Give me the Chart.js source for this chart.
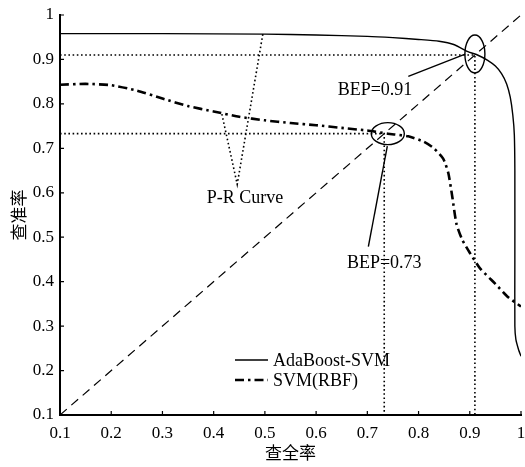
<!DOCTYPE html>
<html>
<head>
<meta charset="utf-8">
<script src="https://cdn.jsdelivr.net/npm/chart.js@4"></script>
<style>
  html, body { margin: 0; padding: 0; background: #fff; }
  #wrap { width: 525px; height: 467px; }
</style>
</head>
<body>
<div id="wrap"><canvas id="prChart"></canvas></div>
<script>
// ---------- Data ----------
const adaRecall    = [0.1, 0.3, 0.5, 0.6, 0.7, 0.75, 0.8, 0.84, 0.87, 0.895, 0.915, 0.935, 0.95, 0.962, 0.972, 0.979, 0.984, 0.987, 0.988, 0.988, 0.988, 0.99, 0.995, 1.0];
const adaPrecision = [0.958, 0.958, 0.957, 0.955, 0.952, 0.949, 0.945, 0.941, 0.933, 0.918, 0.91, 0.898, 0.885, 0.868, 0.845, 0.815, 0.775, 0.73, 0.65, 0.45, 0.3, 0.27, 0.248, 0.232];

const svmRecall    = [0.1, 0.15, 0.2, 0.25, 0.3, 0.35, 0.4, 0.45, 0.5, 0.55, 0.6, 0.65, 0.7, 0.74, 0.78, 0.81, 0.83, 0.848, 0.858, 0.866, 0.874, 0.885, 0.9, 0.92, 0.95, 0.975, 1.0];
const svmPrecision = [0.843, 0.845, 0.842, 0.83, 0.812, 0.795, 0.783, 0.771, 0.763, 0.757, 0.752, 0.746, 0.74, 0.733, 0.727, 0.715, 0.70, 0.677, 0.645, 0.59, 0.53, 0.495, 0.465, 0.43, 0.395, 0.365, 0.344];

const xTicks = [0.1, 0.2, 0.3, 0.4, 0.5, 0.6, 0.7, 0.8, 0.9, 1];
const yTicks = [0.1, 0.2, 0.3, 0.4, 0.5, 0.6, 0.7, 0.8, 0.9, 1];

const bepAda = 0.91;
const bepSvm = 0.733;

// P-R Curve pointer (V shape)
const prPointerX = [0.416, 0.446, 0.496];
const prPointerY = [0.777, 0.619, 0.957];

// BEP leader lines
const bepAdaLeaderX = [0.780, 0.891];
const bepAdaLeaderY = [0.862, 0.912];
const bepSvmLeaderX = [0.739, 0.702];
const bepSvmLeaderY = [0.705, 0.479];

// text notes: [text, x, y]
const notes = [
  ["BEP=0.91", 0.715, 0.831],
  ["BEP=0.73", 0.733, 0.441],
  ["P-R Curve", 0.461, 0.587]
];

const pts = (xs, ys) => xs.map((x, i) => ({ x: x, y: ys[i] }));

const SERIF = "'Liberation Serif', 'DejaVu Serif', serif";
const CJK = "'Noto Sans CJK SC', sans-serif";

// ---------- Plugin: inward ticks, ellipses, notes, legend ----------
const extras = {
  id: "extras",
  afterDatasetsDraw(chart) {
    const ctx = chart.ctx;
    const xs = chart.scales.x, ys = chart.scales.y;
    const area = chart.chartArea;
    ctx.save();

    // inward tick marks
    ctx.strokeStyle = "#000";
    ctx.lineWidth = 1.2;
    ctx.beginPath();
    xTicks.forEach(v => {
      const px = xs.getPixelForValue(v);
      ctx.moveTo(px, area.bottom);
      ctx.lineTo(px, area.bottom - 4);
    });
    yTicks.forEach(v => {
      const py = ys.getPixelForValue(v);
      ctx.moveTo(area.left, py);
      ctx.lineTo(area.left + 4, py);
    });
    ctx.stroke();

    // ellipses round the break-even points
    ctx.lineWidth = 1.4;
    ctx.beginPath();
    ctx.ellipse(xs.getPixelForValue(bepAda), ys.getPixelForValue(bepAda) - 1, 10, 19, 0, 0, Math.PI * 2);
    ctx.stroke();
    ctx.beginPath();
    ctx.ellipse(xs.getPixelForValue(bepSvm + 0.007), ys.getPixelForValue(bepSvm), 16.5, 11, 0, 0, Math.PI * 2);
    ctx.stroke();

    // notes
    ctx.fillStyle = "#000";
    ctx.font = "18px " + SERIF;
    ctx.textAlign = "center";
    ctx.textBaseline = "middle";
    notes.forEach(n => {
      ctx.fillText(n[0], xs.getPixelForValue(n[1]), ys.getPixelForValue(n[2]));
    });

    // legend
    const lx = area.left + 175;
    const items = chart.data.datasets.filter(d => d.inLegend);
    items.forEach((d, i) => {
      const y = area.bottom - 55 + i * 20;
      ctx.beginPath();
      ctx.setLineDash(d.borderDash || []);
      ctx.lineWidth = d.borderWidth;
      ctx.moveTo(lx, y);
      ctx.lineTo(lx + 33, y);
      ctx.stroke();
      ctx.setLineDash([]);
      ctx.textAlign = "left";
      ctx.fillText(d.label, lx + 38, y + 1);
    });

    ctx.restore();
  }
};

const dotted = { borderColor: "#000", borderWidth: 1.6, borderDash: [1.6, 2.6], pointRadius: 0, showLine: true, fill: false };

new Chart(document.getElementById("prChart"), {
  type: "scatter",
  data: {
    datasets: [
      { ...dotted, data: pts([0.1, bepAda, bepAda], [bepAda, bepAda, 0.1]) },
      { ...dotted, data: pts([0.1, bepSvm, bepSvm], [bepSvm, bepSvm, 0.1]) },
      { ...dotted, data: pts(prPointerX, prPointerY) },
      {
        data: pts([0.1, 1], [0.1, 1]),
        borderColor: "#000", borderWidth: 1.2, borderDash: [9, 6],
        pointRadius: 0, showLine: true
      },
      { data: pts(bepAdaLeaderX, bepAdaLeaderY), borderColor: "#000", borderWidth: 1.4, pointRadius: 0, showLine: true },
      { data: pts(bepSvmLeaderX, bepSvmLeaderY), borderColor: "#000", borderWidth: 1.4, pointRadius: 0, showLine: true },
      {
        label: "AdaBoost-SVM", inLegend: true,
        data: pts(adaRecall, adaPrecision),
        borderColor: "#000", borderWidth: 1.4,
        pointRadius: 0, showLine: true, tension: 0.2
      },
      {
        label: "SVM(RBF)", inLegend: true,
        data: pts(svmRecall, svmPrecision),
        borderColor: "#000", borderWidth: 2.6, borderDash: [9, 4, 2.5, 4],
        pointRadius: 0, showLine: true, tension: 0.2
      }
    ]
  },
  options: {
    responsive: true,
    maintainAspectRatio: false,
    animation: false,
    layout: { padding: { top: 15, right: 4, left: 0, bottom: 0 } },
    plugins: { legend: { display: false }, tooltip: { enabled: false } },
    scales: {
      x: {
        type: "linear", min: 0.1, max: 1,
        afterBuildTicks: s => { s.ticks = xTicks.map(v => ({ value: v })); },
        afterFit: s => { s.height = 52; s.paddingLeft = 0; s.paddingRight = 0; },
        ticks: {
          color: "#000", padding: 8, maxRotation: 0,
          font: { family: SERIF, size: 17 },
          callback: v => v === 1 ? "1" : v.toFixed(1)
        },
        grid: { drawOnChartArea: false, drawTicks: false },
        border: { display: true, color: "#000", width: 2 },
        title: {
          display: true, text: "查全率", color: "#000",
          font: { family: CJK, size: 17 },
          padding: { top: 0, bottom: 4 }
        }
      },
      y: {
        type: "linear", min: 0.1, max: 1,
        afterBuildTicks: s => { s.ticks = yTicks.map(v => ({ value: v })); },
        afterFit: s => { s.width = 60; s.paddingTop = 0; s.paddingBottom = 0; },
        ticks: {
          color: "#000", padding: 6,
          font: { family: SERIF, size: 17 },
          callback: v => v === 1 ? "1" : v.toFixed(1)
        },
        grid: { drawOnChartArea: false, drawTicks: false },
        border: { display: true, color: "#000", width: 2 },
        title: {
          display: true, text: "查准率", color: "#000",
          font: { family: CJK, size: 17 },
          padding: { top: 8, bottom: 0 }
        }
      }
    }
  },
  plugins: [extras]
});
</script>
</body>
</html>
